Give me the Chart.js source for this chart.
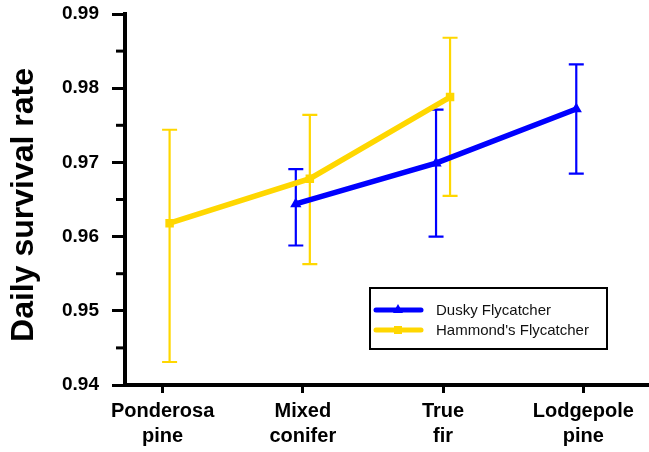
<!DOCTYPE html>
<html>
<head>
<meta charset="utf-8">
<script src="https://cdn.jsdelivr.net/npm/chart.js@4.4.1/dist/chart.umd.min.js"></script>
<style>
html,body{margin:0;padding:0;background:#fff;overflow:hidden;}
#wrap{width:649px;height:452px;position:relative;overflow:hidden;}
canvas{display:block;}
</style>
</head>
<body>
<div id="wrap"><canvas id="c" width="655" height="452"></canvas></div>
<script>
const categories = [['Ponderosa','pine'],['Mixed','conifer'],['True','fir'],['Lodgepole','pine']];
const seriesNames = ['Dusky Flycatcher', "Hammond's Flycatcher"];
const yTitle = 'Daily survival rate';
const duskyMean  = [null, 0.9644, 0.9699, 0.9772];
const duskyLow   = [null, 0.9588, 0.9600, 0.9685];
const duskyHigh  = [null, 0.9691, 0.9771, 0.9832];
const hammondMean = [0.9618, 0.9678, 0.9788, null];
const hammondLow  = [0.9431, 0.9563, 0.9655, null];
const hammondHigh = [0.9744, 0.9764, 0.9868, null];
const yMajorTicks = [0.94, 0.95, 0.96, 0.97, 0.98, 0.99];

const BLUE = '#0000ff';
const YELLOW = '#ffd700';
const FONT = "'Liberation Sans', Arial, sans-serif";
const dodge = 0.05;

function pts(vals, off){
  return vals.map((v,i)=> v===null ? null : {x: i + off, y: v}).filter(p=>p);
}
function errs(lo, hi, off){
  return lo.map((v,i)=> v===null ? null : {x: i + off, lo: v, hi: hi[i]}).filter(p=>p);
}

const errorBars = {
  id: 'errorBars',
  beforeDatasetsDraw(chart){
    const ctx = chart.ctx, xs = chart.scales.x, ys = chart.scales.y;
    chart.data.datasets.forEach(ds=>{
      ctx.save();
      ctx.strokeStyle = ds.borderColor;
      ctx.lineWidth = 2.2;
      ds.errors.forEach(e=>{
        const px = xs.getPixelForValue(e.x);
        const y1 = ys.getPixelForValue(e.lo), y2 = ys.getPixelForValue(e.hi);
        ctx.beginPath();
        ctx.moveTo(px, y1); ctx.lineTo(px, y2);
        ctx.moveTo(px-7.5, y1); ctx.lineTo(px+7.5, y1);
        ctx.moveTo(px-7.5, y2); ctx.lineTo(px+7.5, y2);
        ctx.stroke();
      });
      ctx.restore();
    });
  },
  afterDraw(chart){
    const ctx = chart.ctx, ys = chart.scales.y;
    // minor ticks
    ctx.save();
    ctx.strokeStyle = '#000';
    ctx.lineWidth = 3;
    ys.ticks.forEach(t=>{
      const major = yMajorTicks.some(m=>Math.abs(m-t.value)<1e-6);
      if(!major){
        const py = ys.getPixelForValue(t.value);
        ctx.beginPath(); ctx.moveTo(chart.chartArea.left-9, py); ctx.lineTo(chart.chartArea.left, py); ctx.stroke();
      }
    });
    ctx.restore();
    // y axis title
    ctx.save();
    ctx.translate(33, 205);
    ctx.rotate(-Math.PI/2);
    ctx.fillStyle = '#000';
    ctx.font = 'bold 32px ' + FONT;
    ctx.textAlign = 'center';
    ctx.textBaseline = 'alphabetic';
    ctx.fillText(yTitle, 0, 0);
    ctx.restore();
    // legend box
    ctx.save();
    const bx = 370, by = 288, bw = 237, bh = 61;
    ctx.fillStyle = '#fff';
    ctx.fillRect(bx, by, bw, bh);
    ctx.strokeStyle = '#000'; ctx.lineWidth = 2;
    ctx.strokeRect(bx, by, bw, bh);
    chart.data.datasets.forEach((ds,i)=>{
      const ly = 310 + i*20;
      ctx.strokeStyle = ds.borderColor; ctx.lineWidth = 5; ctx.lineCap = 'round';
      ctx.beginPath(); ctx.moveTo(376, ly); ctx.lineTo(421, ly); ctx.stroke();
      ctx.fillStyle = ds.borderColor;
      ctx.beginPath();
      if(ds.pointStyle === 'triangle'){
        ctx.moveTo(398, ly-6); ctx.lineTo(403, ly+3); ctx.lineTo(393, ly+3); ctx.closePath();
      } else {
        ctx.rect(394, ly-4, 8, 8);
      }
      ctx.fill();
      ctx.fillStyle = '#111';
      ctx.font = '15px ' + FONT;
      ctx.textBaseline = 'middle';
      ctx.fillText(ds.label, 436, ly+1);
    });
    ctx.restore();
  }
};

new Chart(document.getElementById('c'), {
  type: 'line',
  data: {
    datasets: [
      { label: seriesNames[0], data: pts(duskyMean, -dodge), errors: errs(duskyLow, duskyHigh, -dodge),
        borderColor: BLUE, backgroundColor: BLUE, borderWidth: 5.5, pointStyle: 'triangle', pointRadius: 6.5,
        pointBorderWidth: 0, tension: 0 },
      { label: seriesNames[1], data: pts(hammondMean, dodge), errors: errs(hammondLow, hammondHigh, dodge),
        borderColor: YELLOW, backgroundColor: YELLOW, borderWidth: 5.5, pointStyle: 'rect', pointRadius: 6,
        pointBorderWidth: 0, tension: 0 }
    ]
  },
  options: {
    responsive: false,
    animation: false,
    layout: { padding: { top: 14, right: 0, bottom: 0, left: 0 } },
    plugins: { legend: { display: false }, tooltip: { enabled: false } },
    scales: {
      x: {
        type: 'linear',
        min: -0.268, max: 3.465,
        afterBuildTicks(s){ s.ticks = categories.map((c,i)=>({value: i})); },
        afterFit(s){ s.height = 67; s.paddingLeft = 0; s.paddingRight = 0; },
        grid: { drawOnChartArea: false, drawTicks: true, tickLength: 8, tickWidth: 3, tickColor: '#000' },
        border: { display: true, color: '#000', width: 4 },
        ticks: {
          autoSkip: false, maxRotation: 0, padding: 6, color: '#000',
          font: { family: FONT, size: 20, weight: 'bold', lineHeight: 1.25 },
          callback: (v)=> categories[Math.round(v)]
        }
      },
      y: {
        type: 'linear',
        min: 0.94, max: 0.99,
        afterFit(s){ s.width = 125; s.paddingTop = 0; s.paddingBottom = 0; },
        afterBuildTicks(s){
          const t = [];
          yMajorTicks.forEach((v,i)=>{ t.push({value: v}); if(i < yMajorTicks.length-1) t.push({value: +(v+0.005).toFixed(3)}); });
          s.ticks = t;
        },
        grid: { drawOnChartArea: false, drawTicks: true, tickLength: 13, tickWidth: 3,
          tickColor: (c)=> (c.tick && yMajorTicks.some(m=>Math.abs(m-c.tick.value)<1e-6)) ? '#000' : 'rgba(0,0,0,0)' },
        border: { display: true, color: '#000', width: 4 },
        ticks: {
          padding: 13, color: '#000',
          font: { family: FONT, size: 19, weight: 'bold' },
          callback: (v)=> yMajorTicks.some(m=>Math.abs(m-v)<1e-6) ? v.toFixed(2) : ''
        },
        title: { display: false }
      }
    }
  },
  plugins: [errorBars]
});
</script>
</body>
</html>
